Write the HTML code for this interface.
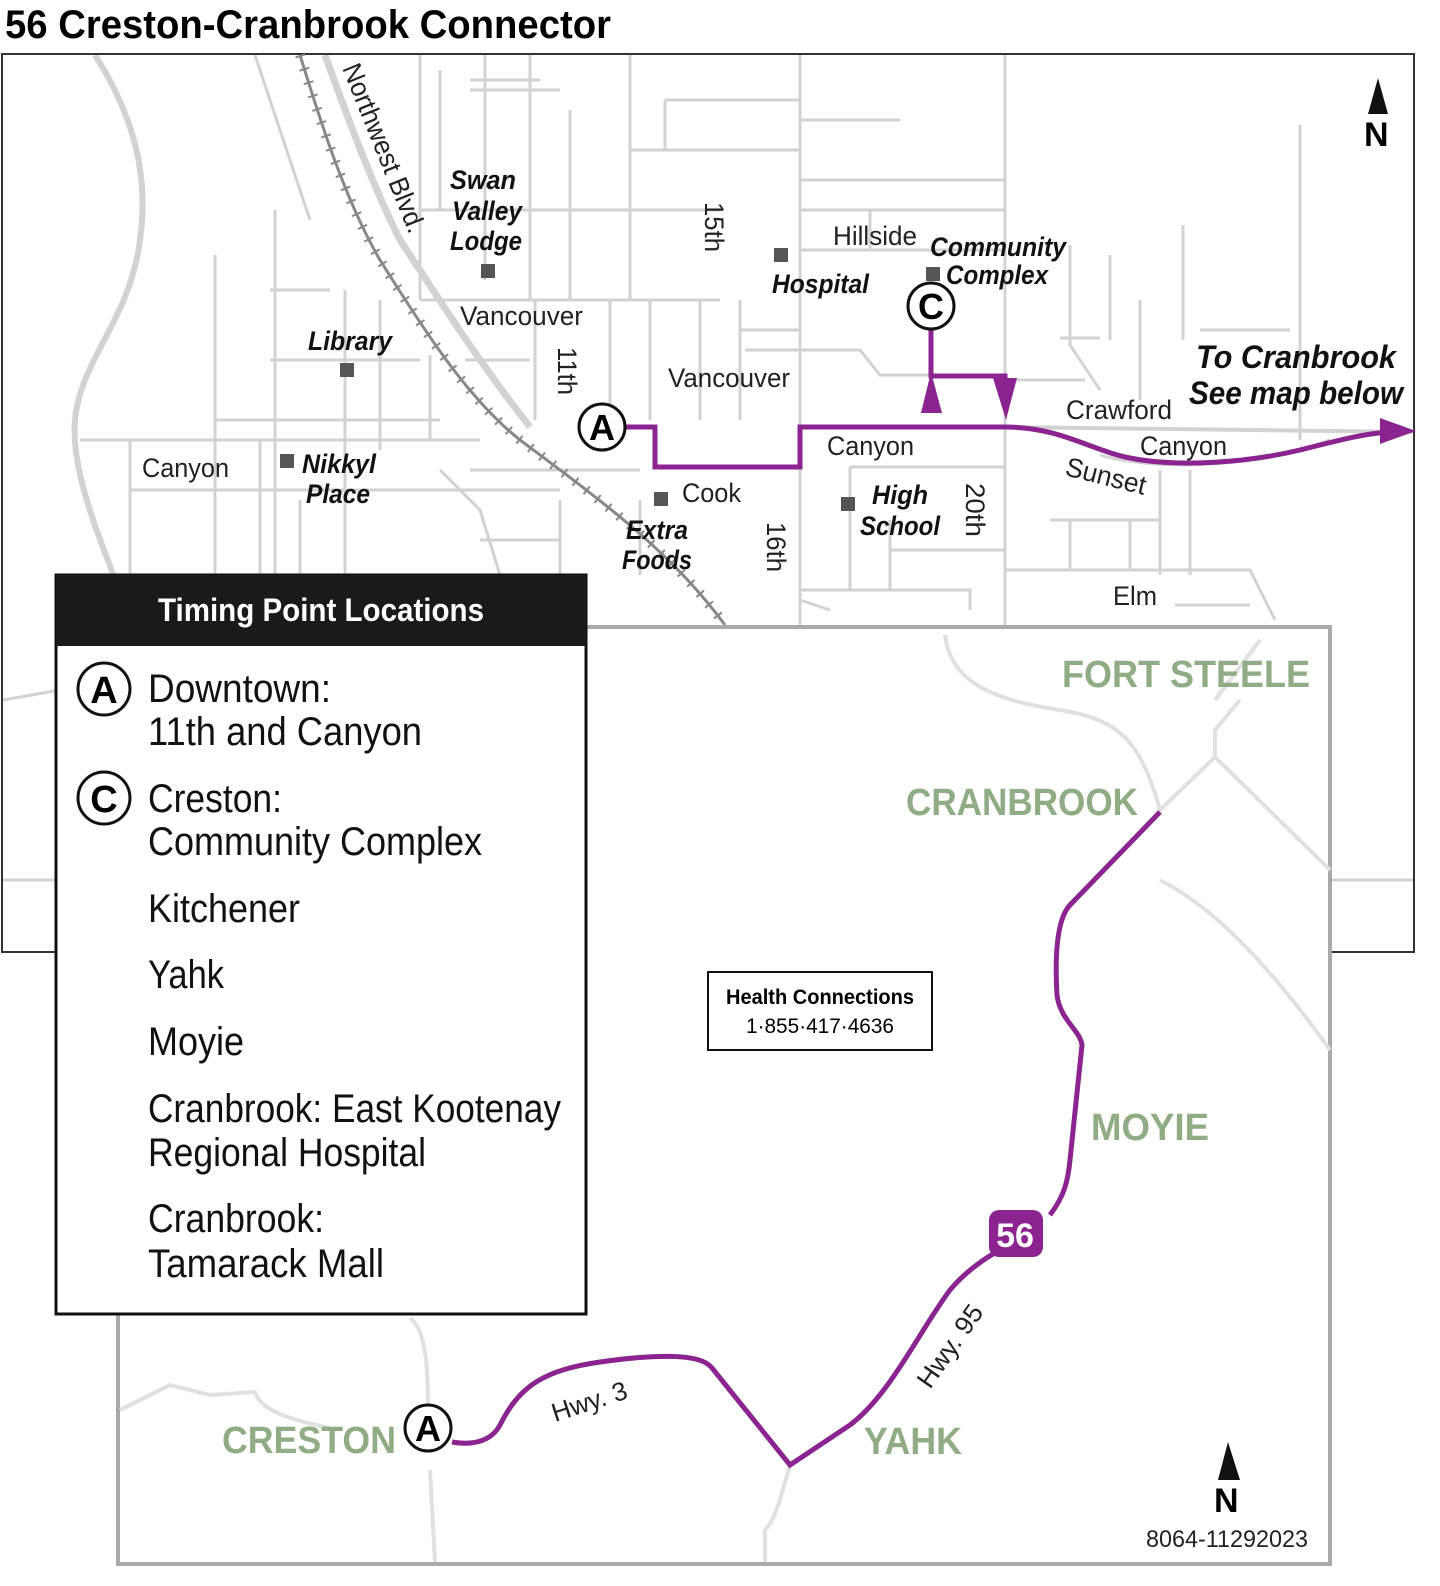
<!DOCTYPE html>
<html><head><meta charset="utf-8"><style>
html,body{margin:0;padding:0;background:#fff;overflow:hidden;width:1440px;height:1586px;}
svg{display:block;position:absolute;left:0;top:0;}
text{font-family:"Liberation Sans Narrow","Liberation Sans",sans-serif;}
</style></head><body>
<svg width="1440" height="1586" viewBox="0 0 1440 1586" xmlns="http://www.w3.org/2000/svg">
<text x="5" y="38" font-size="40" font-weight="bold" textLength="606" lengthAdjust="spacingAndGlyphs">56 Creston-Cranbrook Connector</text>
<defs><clipPath id="top"><rect x="3" y="55" width="1410" height="896"/></clipPath></defs>
<rect x="2" y="54" width="1412" height="898" fill="#fff" stroke="#333" stroke-width="2"/>
<g clip-path="url(#top)" fill="none" stroke="#d2d2d2" stroke-width="3">
<path d="M95 55 C130 110 150 170 140 240 C130 320 80 360 75 420 C70 480 110 560 130 620 L160 760" stroke-width="6"/>
<path d="M255 55 L310 220 M420 55 L420 300"/>
<path d="M325 55 C345 110 370 180 400 240 C440 300 470 350 530 427" stroke-width="7"/>
<path d="M275 210 L275 580 M345 290 L345 580 M270 290 L330 290 M270 360 L420 360 M215 420 L440 420 M215 255 L215 580 M130 490 L560 490 M80 440 L480 440 M130 440 L130 580 M380 300 L380 450 M260 440 L260 575 M300 500 L300 575 M430 355 L430 440"/>
<path d="M440 70 L440 210 M485 55 L485 280 M530 55 L530 300 M570 110 L570 300 M470 90 L560 90 M420 210 L720 210 M420 300 L720 300 M465 360 L530 360 M535 300 L535 420 M630 55 L630 300 M630 150 L800 150 M665 100 L800 100 M665 100 L665 150 M470 80 L540 80"/>
<path d="M610 300 L610 420 M650 300 L650 420 M700 300 L700 420 M740 300 L740 420 M740 330 L800 330 M650 427 L580 430 M470 470 L640 470 M440 470 L480 510 L500 575 M560 500 L560 575 M640 500 L640 575 M480 540 L560 540"/>
<path d="M800 55 L800 625 M800 120 L900 120 M800 180 L1005 180 M800 210 L1005 210 M870 210 L870 250 M800 250 L1005 250 M745 350 L860 350 L880 375 L930 375 M1005 55 L1005 625 M1005 380 L1085 380"/>
<path d="M850 467 L1005 467 M850 467 L850 590 M890 520 L890 590 M890 550 L1005 550 M800 590 L970 590 L970 610 M800 600 L830 610"/>
<path d="M1070 245 L1070 345 L1100 390 M1110 255 L1110 340 M1140 300 L1140 400 M1183 225 L1183 340 M1060 338 L1100 338 M1300 125 L1300 440 M1200 330 L1290 330"/>
<path d="M1005 427 L1414 432" stroke-width="4"/>
<path d="M1100 455 C1150 470 1250 470 1330 440 M1050 520 L1160 520 M1070 520 L1070 570 M1130 520 L1130 570 M1160 470 L1160 575 M1190 470 L1190 575 M1005 570 L1250 570 L1275 620 M1175 605 L1250 605"/>
<path d="M3 700 L60 690 M3 880 L60 880 M1330 880 L1414 880"/>
</g>
<path d="M300 55 C320 120 345 200 380 260 C430 340 470 400 520 440 C600 500 670 550 725 625" fill="none" stroke="#888" stroke-width="3"/>
<path d="M300 55 C320 120 345 200 380 260 C430 340 470 400 520 440 C600 500 670 550 725 625" fill="none" stroke="#888" stroke-width="10" stroke-dasharray="2 12"/>
<g font-size="27" fill="#222">
<text x="0" y="0" transform="translate(342,68) rotate(68)" textLength="180" lengthAdjust="spacingAndGlyphs">Northwest Blvd.</text>
<text x="460" y="325" textLength="123" lengthAdjust="spacingAndGlyphs">Vancouver</text>
<text x="668" y="387" textLength="122" lengthAdjust="spacingAndGlyphs">Vancouver</text>
<text x="142" y="477" textLength="87" lengthAdjust="spacingAndGlyphs">Canyon</text>
<text x="827" y="455" textLength="87" lengthAdjust="spacingAndGlyphs">Canyon</text>
<text x="1140" y="455" textLength="87" lengthAdjust="spacingAndGlyphs">Canyon</text>
<text x="682" y="502" textLength="59" lengthAdjust="spacingAndGlyphs">Cook</text>
<text x="833" y="245" textLength="84" lengthAdjust="spacingAndGlyphs">Hillside</text>
<text x="1066" y="419" textLength="106" lengthAdjust="spacingAndGlyphs">Crawford</text>
<text x="1113" y="605" textLength="44" lengthAdjust="spacingAndGlyphs">Elm</text>
<text x="0" y="0" transform="translate(1064,475) rotate(14)" textLength="82" lengthAdjust="spacingAndGlyphs">Sunset</text>
<text x="0" y="0" transform="translate(558,347) rotate(90)" textLength="48" lengthAdjust="spacingAndGlyphs">11th</text>
<text x="0" y="0" transform="translate(705,202) rotate(90)" textLength="50" lengthAdjust="spacingAndGlyphs">15th</text>
<text x="0" y="0" transform="translate(767,522) rotate(90)" textLength="50" lengthAdjust="spacingAndGlyphs">16th</text>
<text x="0" y="0" transform="translate(966,483) rotate(90)" textLength="54" lengthAdjust="spacingAndGlyphs">20th</text>
</g>
<g font-size="27" font-style="italic" font-weight="bold" fill="#111">
<text x="450" y="189" textLength="66" lengthAdjust="spacingAndGlyphs">Swan</text>
<text x="452" y="220" textLength="70" lengthAdjust="spacingAndGlyphs">Valley</text>
<text x="450" y="250" textLength="72" lengthAdjust="spacingAndGlyphs">Lodge</text>
<text x="308" y="350" textLength="84" lengthAdjust="spacingAndGlyphs">Library</text>
<text x="302" y="473" textLength="74" lengthAdjust="spacingAndGlyphs">Nikkyl</text>
<text x="306" y="503" textLength="64" lengthAdjust="spacingAndGlyphs">Place</text>
<text x="626" y="539" textLength="62" lengthAdjust="spacingAndGlyphs">Extra</text>
<text x="622" y="569" textLength="70" lengthAdjust="spacingAndGlyphs">Foods</text>
<text x="772" y="293" textLength="97" lengthAdjust="spacingAndGlyphs">Hospital</text>
<text x="930" y="256" textLength="136" lengthAdjust="spacingAndGlyphs">Community</text>
<text x="946" y="284" textLength="102" lengthAdjust="spacingAndGlyphs">Complex</text>
<text x="872" y="504" textLength="56" lengthAdjust="spacingAndGlyphs">High</text>
<text x="860" y="535" textLength="80" lengthAdjust="spacingAndGlyphs">School</text>
<text x="1196" y="368" font-size="32" textLength="200" lengthAdjust="spacingAndGlyphs">To Cranbrook</text>
<text x="1189" y="404" font-size="32" font-weight="bold" textLength="214" lengthAdjust="spacingAndGlyphs">See map below</text>
</g>
<g fill="#555">
<rect x="481" y="264" width="14" height="14"/><rect x="340" y="363" width="14" height="14"/><rect x="280" y="454" width="14" height="14"/>
<rect x="654" y="492" width="14" height="14"/><rect x="774" y="248" width="14" height="14"/><rect x="926" y="267" width="14" height="14"/><rect x="841" y="497" width="14" height="14"/>
</g>
<path d="M1378 78 L1368 114 L1388 114 Z" fill="#111"/>
<text x="1364" y="146" font-size="34" font-weight="bold">N</text>
<g fill="none" stroke="#8b2490" stroke-width="5">
<path d="M620 427 L655 427 L655 467 L800 467 L800 427 L1005 427 C1060 427 1090 450 1130 458 C1180 468 1250 462 1300 450 C1340 440 1370 432 1395 432"/>
<path d="M931 330 L931 376 L1005 376 L1005 400"/>
</g>
<path d="M1380 418 L1416 431 L1380 444 Z" fill="#8b2490"/>
<path d="M921 413 L931 372 L942 413 Z" fill="#8b2490"/>
<path d="M993 378 L1017 378 L1006 420 Z" fill="#8b2490"/>
<circle cx="602" cy="427" r="23" fill="#fff" stroke="#111" stroke-width="3"/>
<text x="602" y="440" font-size="36" font-weight="bold" text-anchor="middle">A</text>
<circle cx="931" cy="306" r="23" fill="#fff" stroke="#111" stroke-width="3"/>
<text x="931" y="319" font-size="36" font-weight="bold" text-anchor="middle">C</text>

<rect x="118" y="627" width="1212" height="937" fill="#fff" stroke="#aaa" stroke-width="4"/>
<g fill="none" stroke="#e0e0e0" stroke-width="4">
<path d="M945 635 C950 680 990 700 1060 710 C1120 720 1140 740 1160 810 L1215 757 L1215 730 L1240 700 M1215 757 L1330 870 M1215 700 L1260 640"/>
<path d="M1160 880 C1220 910 1280 980 1330 1050"/>
<path d="M120 1410 L170 1385 L210 1395 L255 1392 C260 1410 290 1420 330 1428"/>
<path d="M410 1318 C425 1330 428 1360 428 1410 M430 1470 L435 1562"/>
<path d="M790 1465 C780 1500 775 1520 765 1530 L765 1562"/>
</g>
<path d="M452 1442 C475 1446 492 1440 500 1425 C520 1385 545 1370 600 1362 C650 1355 700 1352 712 1368 L790 1465 L850 1425 C890 1395 920 1330 950 1290 C965 1272 985 1258 1000 1250 M1050 1215 C1065 1195 1068 1180 1070 1160 L1082 1045 C1080 1030 1060 1020 1057 995 C1055 960 1056 920 1070 905 L1160 812" fill="none" stroke="#8b2490" stroke-width="5"/>
<rect x="989" y="1210" width="54" height="47" rx="10" fill="#8b2490"/>
<text x="1015" y="1247" font-size="34" font-weight="bold" fill="#fff" text-anchor="middle">56</text>
<circle cx="428" cy="1428" r="23" fill="#fff" stroke="#111" stroke-width="3"/>
<text x="428" y="1441" font-size="36" font-weight="bold" text-anchor="middle">A</text>
<g font-size="38" font-weight="bold" fill="#8fac84">
<text x="1062" y="687" textLength="248" lengthAdjust="spacingAndGlyphs">FORT STEELE</text>
<text x="906" y="815" textLength="232" lengthAdjust="spacingAndGlyphs">CRANBROOK</text>
<text x="1091" y="1140" textLength="118" lengthAdjust="spacingAndGlyphs">MOYIE</text>
<text x="864" y="1454" textLength="98" lengthAdjust="spacingAndGlyphs">YAHK</text>
<text x="222" y="1453" textLength="174" lengthAdjust="spacingAndGlyphs">CRESTON</text>
</g>
<g font-size="26" fill="#222">
<text x="0" y="0" transform="translate(555,1422) rotate(-18)" textLength="78" lengthAdjust="spacingAndGlyphs">Hwy. 3</text>
<text x="0" y="0" transform="translate(930,1390) rotate(-55)" textLength="95" lengthAdjust="spacingAndGlyphs">Hwy. 95</text>
<text x="1146" y="1547" font-size="24" textLength="162" lengthAdjust="spacingAndGlyphs">8064-11292023</text>
</g>
<path d="M1228 1442 L1218 1480 L1240 1480 Z" fill="#111"/>
<text x="1214" y="1512" font-size="34" font-weight="bold">N</text>
<rect x="708" y="972" width="224" height="78" fill="#fff" stroke="#111" stroke-width="2"/>
<text x="820" y="1004" font-size="21" font-weight="bold" text-anchor="middle" textLength="188" lengthAdjust="spacingAndGlyphs">Health Connections</text>
<text x="820" y="1033" font-size="21" text-anchor="middle" textLength="148" lengthAdjust="spacingAndGlyphs">1·855·417·4636</text>

<rect x="56" y="575" width="530" height="739" fill="#fff" stroke="#111" stroke-width="3"/>
<rect x="56" y="575" width="530" height="71" fill="#1a1a1a"/>
<text x="321" y="621" font-size="32" font-weight="bold" fill="#fff" text-anchor="middle" textLength="326" lengthAdjust="spacingAndGlyphs">Timing Point Locations</text>
<circle cx="104" cy="689" r="26" fill="#fff" stroke="#111" stroke-width="3"/>
<text x="104" y="703" font-size="38" font-weight="bold" text-anchor="middle">A</text>
<circle cx="104" cy="798" r="26" fill="#fff" stroke="#111" stroke-width="3"/>
<text x="104" y="812" font-size="38" font-weight="bold" text-anchor="middle">C</text>
<g font-size="40" fill="#111">
<text x="148" y="702" textLength="183" lengthAdjust="spacingAndGlyphs">Downtown:</text>
<text x="148" y="745" textLength="274" lengthAdjust="spacingAndGlyphs">11th and Canyon</text>
<text x="148" y="812" textLength="134" lengthAdjust="spacingAndGlyphs">Creston:</text>
<text x="148" y="855" textLength="334" lengthAdjust="spacingAndGlyphs">Community Complex</text>
<text x="148" y="922" textLength="152" lengthAdjust="spacingAndGlyphs">Kitchener</text>
<text x="148" y="988" textLength="76" lengthAdjust="spacingAndGlyphs">Yahk</text>
<text x="148" y="1055" textLength="96" lengthAdjust="spacingAndGlyphs">Moyie</text>
<text x="148" y="1122" textLength="413" lengthAdjust="spacingAndGlyphs">Cranbrook: East Kootenay</text>
<text x="148" y="1166" textLength="278" lengthAdjust="spacingAndGlyphs">Regional Hospital</text>
<text x="148" y="1232" textLength="176" lengthAdjust="spacingAndGlyphs">Cranbrook:</text>
<text x="148" y="1277" textLength="236" lengthAdjust="spacingAndGlyphs">Tamarack Mall</text>
</g>
</svg>
</body></html>
